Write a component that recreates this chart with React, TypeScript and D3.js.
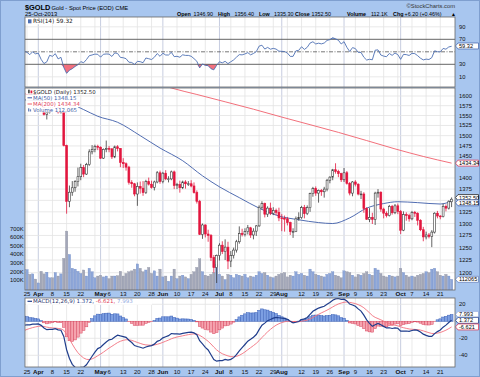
import React from "react";
import * as d3 from "d3";

const holidays = ["2013-03-29", "2013-05-27", "2013-07-04", "2013-09-02"];
const firstDay = "2013-03-25";
const lastDay = "2013-10-25";
const monthNames = ["Jan", "Feb", "Mar", "Apr", "May", "Jun", "Jul", "Aug", "Sep", "Oct", "Nov", "Dec"];

// closes before the visible window (Jan 2 - Mar 22, 2013), used for indicator warm-up
const priorCloses = [1687, 1668, 1649, 1646, 1657, 1655, 1678, 1662, 1667, 1683, 1680, 1687, 1687, 1692, 1685, 1669, 1658, 1655, 1661, 1678, 1663,
  1667, 1675, 1673, 1677, 1670, 1667, 1649, 1648, 1643, 1636, 1609, 1604, 1577, 1578, 1581, 1593, 1614, 1596, 1580,
  1577, 1573, 1575, 1583, 1578, 1577, 1576, 1591, 1588, 1588, 1592, 1603, 1613, 1606, 1614, 1607];

// [open, high, low, close] per trading day, Mar 25 - Oct 25 2013
const ohlc: number[][] = [
  [1607, 1615, 1597, 1604], [1604, 1606, 1592, 1596], [1596, 1609, 1593, 1605], [1605, 1607, 1590, 1598],
  [1598, 1605, 1592, 1600], [1600, 1603, 1573, 1576], [1576, 1579, 1550, 1553], [1553, 1566, 1540, 1558], [1558, 1587, 1555, 1580],
  [1580, 1582, 1566, 1575], [1575, 1590, 1571, 1585], [1585, 1588, 1555, 1558], [1558, 1572, 1555, 1564], [1564, 1566, 1474, 1476],
  [1476, 1478, 1321, 1348], [1348, 1383, 1335, 1368], [1368, 1393, 1360, 1378], [1378, 1395, 1369, 1392], [1392, 1424, 1381, 1403],
  [1403, 1433, 1395, 1424], [1424, 1430, 1402, 1409], [1409, 1435, 1407, 1431], [1431, 1467, 1428, 1461], [1461, 1477, 1455, 1467],
  [1467, 1478, 1460, 1474], [1474, 1478, 1465, 1472],
  [1472, 1474, 1444, 1446], [1446, 1469, 1444, 1467], [1467, 1488, 1460, 1469], [1469, 1475, 1460, 1468], [1468, 1470, 1444, 1449],
  [1449, 1476, 1446, 1473], [1473, 1477, 1462, 1469], [1469, 1470, 1425, 1436], [1436, 1446, 1423, 1433], [1433, 1436, 1417, 1425],
  [1425, 1428, 1385, 1390], [1390, 1395, 1378, 1387], [1387, 1389, 1359, 1364], [1364, 1390, 1338, 1381], [1381, 1392, 1365, 1377],
  [1377, 1393, 1360, 1367], [1367, 1396, 1364, 1392], [1392, 1401, 1383, 1386], [1386, 1394, 1376, 1379], [1379, 1394, 1372, 1391],
  [1391, 1416, 1388, 1412], [1412, 1417, 1387, 1392],
  [1392, 1414, 1388, 1411], [1411, 1418, 1395, 1398], [1398, 1404, 1390, 1398], [1398, 1417, 1395, 1414], [1414, 1417, 1375, 1383],
  [1383, 1389, 1375, 1385], [1385, 1394, 1367, 1378], [1378, 1394, 1375, 1391], [1391, 1395, 1376, 1387], [1387, 1393, 1382, 1387],
  [1387, 1395, 1379, 1382], [1382, 1390, 1365, 1367], [1367, 1372, 1343, 1348], [1348, 1351, 1276, 1277], [1277, 1300, 1268, 1297],
  [1297, 1298, 1271, 1278], [1278, 1287, 1262, 1275], [1275, 1278, 1223, 1230], [1230, 1235, 1200, 1210], [1210, 1236, 1180, 1234],
  [1234, 1259, 1224, 1255], [1255, 1263, 1237, 1242], [1242, 1267, 1225, 1251], [1251, 1262, 1207, 1223], [1223, 1243, 1211, 1234],
  [1234, 1250, 1228, 1245], [1245, 1266, 1240, 1262], [1262, 1294, 1258, 1279], [1279, 1289, 1273, 1277], [1277, 1290, 1273, 1283],
  [1283, 1297, 1277, 1291], [1291, 1293, 1270, 1276], [1276, 1290, 1267, 1284], [1284, 1297, 1274, 1295], [1295, 1339, 1293, 1335],
  [1335, 1348, 1330, 1343], [1343, 1345, 1313, 1320], [1320, 1337, 1314, 1333], [1333, 1345, 1318, 1322], [1322, 1335, 1318, 1328],
  [1328, 1332, 1318, 1324], [1324, 1334, 1305, 1312],
  [1312, 1320, 1284, 1311], [1311, 1317, 1283, 1310], [1310, 1314, 1296, 1302], [1302, 1304, 1276, 1283], [1283, 1290, 1270, 1283],
  [1283, 1315, 1282, 1310], [1310, 1324, 1306, 1313], [1313, 1338, 1310, 1334], [1334, 1340, 1311, 1321], [1321, 1339, 1318, 1334],
  [1334, 1367, 1325, 1365], [1365, 1380, 1358, 1376], [1376, 1381, 1360, 1366], [1366, 1374, 1345, 1372], [1372, 1375, 1360, 1369],
  [1369, 1380, 1356, 1375], [1375, 1398, 1370, 1395], [1395, 1404, 1388, 1402], [1402, 1421, 1395, 1419], [1419, 1434, 1410, 1415],
  [1415, 1419, 1402, 1410], [1410, 1412, 1391, 1396],
  [1396, 1423, 1391, 1412], [1412, 1416, 1385, 1388], [1388, 1391, 1361, 1366], [1366, 1393, 1359, 1391], [1391, 1395, 1381, 1386],
  [1386, 1388, 1361, 1364], [1364, 1371, 1353, 1364], [1364, 1368, 1323, 1332], [1332, 1335, 1308, 1309], [1309, 1333, 1303, 1313],
  [1313, 1323, 1299, 1309], [1309, 1369, 1297, 1366], [1366, 1375, 1356, 1368], [1368, 1370, 1325, 1331], [1331, 1334, 1311, 1322],
  [1322, 1326, 1313, 1317], [1317, 1340, 1315, 1337], [1337, 1340, 1319, 1323], [1323, 1342, 1320, 1338], [1338, 1343, 1320, 1326],
  [1326, 1329, 1278, 1286], [1286, 1326, 1284, 1319], [1319, 1324, 1306, 1317], [1317, 1321, 1304, 1310], [1310, 1327, 1307, 1324],
  [1324, 1327, 1314, 1322], [1322, 1324, 1296, 1307], [1307, 1309, 1284, 1287], [1287, 1293, 1263, 1272], [1272, 1283, 1267, 1276],
  [1276, 1280, 1269, 1273], [1273, 1286, 1251, 1282], [1282, 1324, 1279, 1322], [1322, 1327, 1311, 1316], [1316, 1318, 1309, 1315],
  [1315, 1343, 1313, 1337], [1337, 1341, 1326, 1333], [1333, 1350, 1330, 1348], [1346.9, 1356.4, 1335.3, 1352.5],
];

// volume in thousands
const volumeK = [
  225, 170, 175, 115, 70, 205, 175, 195, 130, 130, 190, 150, 175, 355,
  670, 400, 240, 230, 205, 180, 220, 150, 240, 200, 130, 150,
  160, 140, 150, 120, 150, 150, 155, 205, 150, 180, 200, 210, 230, 290, 240, 200, 220, 250, 180, 210, 150, 230,
  140, 150, 90, 150, 230, 120, 150, 160, 140, 120, 170, 200, 250, 350, 200, 160, 150, 170, 190, 280,
  170, 150, 110, 170, 160, 130, 170, 160, 150, 170, 130, 150, 140, 160, 200, 180, 190, 160, 140, 130, 150, 170,
  180, 190, 140, 160, 150, 200, 170, 180, 160, 150, 230, 200, 170, 160, 150, 140, 170, 180, 200, 160, 150, 130,
  210, 200, 190, 160, 140, 170, 160, 180, 200, 170, 160, 240, 220, 180, 150, 140, 160, 150, 140, 150,
  240, 190, 160, 140, 150, 140, 160, 170, 180, 200, 190, 230, 240, 200, 160, 150, 170, 150, 112.065,
];

// moving averages: [day index, value]
const ma50Pts = [[-1, 1590], [16, 1577], [20, 1565], [25, 1548], [32, 1533], [40, 1500], [47, 1470], [55, 1440], [62, 1405], [68, 1380],
  [75, 1356], [82, 1333], [89, 1316], [96, 1308], [103, 1302], [108, 1300], [114, 1312], [120, 1333], [126, 1343], [131, 1347],
  [138, 1345], [146, 1342], [150, 1348.15]];
const ma200Pts = [[40, 1650], [51, 1621], [60, 1604], [70, 1585], [80, 1566], [90, 1546], [100, 1527], [110, 1508], [120, 1488],
  [130, 1468], [140, 1450], [150, 1434.34]];

const priceTicks = [1600, 1575, 1550, 1525, 1500, 1475, 1450, 1425, 1400, 1375, 1350, 1325, 1300, 1275, 1250, 1225, 1200];
const volTicks = [100, 200, 300, 400, 500, 600, 700];
const rsiTicks = [90, 70, 50, 30, 10];
const macdTicks = [20, 0, -20, -40];

const BG = "#a8c6ef";
const GRID = "#e3e3e3";
const MGRID = "#b9c0d8";
const RED = "#e2163e";
const UP = "#3a3a3a";
const SANS = "Liberation Sans, Arial, sans-serif";
const LEG = "DejaVu Sans, Verdana, sans-serif";

function tradingDays(): Date[] {
  const out: Date[] = [];
  const hol = new Set(holidays);
  const d = new Date(firstDay + "T00:00:00Z");
  const end = new Date(lastDay + "T00:00:00Z");
  while (d <= end) {
    const dow = d.getUTCDay();
    const iso = d.toISOString().slice(0, 10);
    if (dow !== 0 && dow !== 6 && !hol.has(iso)) out.push(new Date(d));
    d.setUTCDate(d.getUTCDate() + 1);
  }
  return out;
}

function ema(v: number[], n: number) {
  const k = 2 / (n + 1);
  const out: number[] = [];
  let e = v[0];
  v.forEach((x, i) => {
    e = i === 0 ? x : x * k + e * (1 - k);
    out.push(e);
  });
  return out;
}

function rsiCalc(c: number[], n: number) {
  const out = c.map(() => NaN);
  let g = 0, l = 0;
  for (let i = 1; i <= n; i++) {
    const d = c[i] - c[i - 1];
    if (d > 0) g += d; else l -= d;
  }
  g /= n; l /= n;
  out[n] = 100 - 100 / (1 + g / l);
  for (let i = n + 1; i < c.length; i++) {
    const d = c[i] - c[i - 1];
    g = (g * (n - 1) + Math.max(d, 0)) / n;
    l = (l * (n - 1) + Math.max(-d, 0)) / n;
    out[i] = 100 - 100 / (1 + g / l);
  }
  return out;
}

function resolve(items: { y: number }[], gap: number) {
  const s = [...items].sort((a, b) => a.y - b.y);
  for (let it = 0; it < 20; it++) {
    for (let i = 1; i < s.length; i++) {
      const d = s[i].y - s[i - 1].y;
      if (d < gap) {
        const m = (gap - d) / 2;
        s[i].y += m;
        s[i - 1].y -= m;
      }
    }
  }
}

function ValueBox({ y, text, stroke, color = "#000" }: { y: number; text: string; stroke: string; color?: string }) {
  return (
    <g>
      <path d={`M455.5,${y} L458,${y - 3} L478.5,${y - 3} L478.5,${y + 3} L458,${y + 3} Z`} fill="#fff" stroke={stroke} strokeWidth={0.8} />
      <text x={459} y={y + 2} fontSize={5.6} fontFamily={SANS} fill={color}>{text}</text>
    </g>
  );
}

export default function App() {
  const days = tradingDays();
  const n = ohlc.length;
  const P = priorCloses.length;
  const x = d3.scaleLinear().domain([-0.7, 151.2]).range([25, 455]);
  const yP = d3.scaleLog().domain([1600, 1200]).range([96, 272.7]);
  const yV = d3.scaleLinear().domain([0, 700]).range([289, 228.5]);
  const yR = d3.scaleLinear().domain([10, 90]).range([76.8, 26.8]);
  const yM = d3.scaleLinear().domain([-40, 20]).range([355.3, 304.3]);

  const closes = ohlc.map((d) => d[3]);
  const all = priorCloses.concat(closes);
  const rsiAll = rsiCalc(all, 14);
  const e12 = ema(all, 12);
  const e26 = ema(all, 26);
  const macdAll = all.map((_, i) => e12[i] - e26[i]);
  const sigAll = ema(macdAll, 9);
  const idxs = d3.range(-1, n);
  const rsiPts = idxs.map((i) => [i, rsiAll[P + i]] as [number, number]);
  const macdPts = idxs.map((i) => [i, macdAll[P + i]] as [number, number]);
  const sigPts = idxs.map((i) => [i, sigAll[P + i]] as [number, number]);
  const hist = idxs.map((i) => [i, macdAll[P + i] - sigAll[P + i]] as [number, number]);

  const ticks: { i: number; label: string; month: boolean }[] = [];
  days.forEach((d, i) => {
    const p = days[i - 1];
    const month = p ? p.getUTCMonth() !== d.getUTCMonth() : false;
    const week = p ? d.getUTCDay() <= p.getUTCDay() : true;
    if (month) ticks.push({ i, label: monthNames[d.getUTCMonth()], month: true });
    else if (week) ticks.push({ i, label: String(d.getUTCDate()), month: false });
  });
  const labels = ticks.filter((t) => t.month || !ticks.some((m) => m.month && Math.abs(x(m.i) - x(t.i)) < 7));

  const curve = d3.line<number[]>().x((d) => x(d[0])).y((d) => yP(d[1])).curve(d3.curveMonotoneX);

  const rsiPath = d3.line<[number, number]>().x((d) => x(d[0])).y((d) => yR(d[1]))(rsiPts) || "";
  const rsiLow = d3.area<[number, number]>().x((d) => x(d[0])).y0(yR(30)).y1((d) => yR(Math.min(30, d[1])))(rsiPts) || "";
  const rsiHigh = d3.area<[number, number]>().x((d) => x(d[0])).y0(yR(70)).y1((d) => yR(Math.max(70, d[1])))(rsiPts) || "";
  const macdPath = d3.line<[number, number]>().x((d) => x(d[0])).y((d) => yM(d[1]))(macdPts) || "";
  const sigPath = d3.line<[number, number]>().x((d) => x(d[0])).y((d) => yM(d[1]))(sigPts) || "";

  const L = 25, R = 455;
  const panels = [
    { id: "rsi", t: 17, b: 87 },
    { id: "price", t: 88, b: 290 },
    { id: "macd", t: 298, b: 367 },
  ];

  const vgrid = (t: number, b: number) =>
    ticks.map((tk) => (
      <line key={"g" + tk.i} x1={x(tk.i)} x2={x(tk.i)} y1={t} y2={b} stroke={tk.month ? MGRID : GRID} strokeWidth={0.8} />
    ));

  const dateAxis = (y: number) =>
    labels.map((t) => (
      <text key={"l" + t.i} x={x(t.i)} y={y} textAnchor="middle" fontSize={t.month ? 6.2 : 6} fontWeight={t.month ? "bold" : "normal"} fontFamily={SANS} fill="#111">
        {t.label}
      </text>
    ));

  const priceBoxes = [
    { y: yP(1352.5), text: "1352.50", stroke: "#222" },
    { y: yP(1348.15), text: "1348.15", stroke: "#3d5ca8" },
  ];
  resolve(priceBoxes, 5.2);
  const macdBoxes = [
    { y: yM(7.993), text: "7.993", stroke: "#8fa8e0" },
    { y: yM(1.372), text: "1.372", stroke: "#1f3d8c" },
    { y: yM(-6.621), text: "-6.621", stroke: "#e0405a" },
  ];
  resolve(macdBoxes, 6);

  const bw = 1.9;
  const SY = 15.8;

  return (
    <svg width={480} height={377} style={{ position: "absolute", left: 0, top: 0, display: "block" }}>
      <defs>
        {panels.map((p) => (
          <clipPath id={"clip-" + p.id} key={p.id}>
            <rect x={L} y={p.t} width={R - L} height={p.b - p.t} />
          </clipPath>
        ))}
      </defs>
      <rect x={0} y={0} width={480} height={377} fill={BG} />
      <rect x={0.5} y={0.5} width={479} height={376} fill="none" stroke="#7f9fcf" />

      {/* header */}
      <text x={25} y={10} fontSize={7.4} fontWeight="bold" fontFamily={SANS} fill="#000">$GOLD</text>
      <text x={51.5} y={9.5} fontSize={5.8} fontFamily={SANS} fill="#000">Gold - Spot Price (EOD) CME</text>
      <text x={25} y={16} fontSize={5.8} fontFamily={SANS} fill="#000">25-Oct-2013</text>
      <text x={455} y={8} fontSize={5.8} textAnchor="end" fontFamily={SANS} fill="#333">©StockCharts.com</text>
      <g fontFamily={SANS} fontSize={5.4} fill="#000">
        <text x={177} y={SY} fontWeight="bold">Open</text>
        <text x={193.5} y={SY}>1346.90</text>
        <text x={218} y={SY} fontWeight="bold">High</text>
        <text x={234.5} y={SY}>1356.40</text>
        <text x={259} y={SY} fontWeight="bold">Low</text>
        <text x={274} y={SY}>1335.30</text>
        <text x={295} y={SY} fontWeight="bold">Close</text>
        <text x={311.5} y={SY}>1352.50</text>
        <text x={347} y={SY} fontWeight="bold">Volume</text>
        <text x={371} y={SY}>112.1K</text>
        <text x={393} y={SY} fontWeight="bold">Chg</text>
        <text x={404.5} y={SY}>+6.20 (+0.46%)</text>
        <text x={451} y={SY} fontSize={5}>▲</text>
      </g>

      {panels.map((p) => (
        <rect key={"bg" + p.id} x={L} y={p.t} width={R - L} height={p.b - p.t} fill="#fff" />
      ))}

      {/* RSI panel */}
      <g clipPath="url(#clip-rsi)">
        {vgrid(17, 87)}
        {[90, 10].map((v) => (
          <line key={v} x1={L} x2={R} y1={yR(v)} y2={yR(v)} stroke={GRID} strokeWidth={0.8} />
        ))}
        <path d={rsiLow} fill="#f2707e" />
        <path d={rsiHigh} fill="#8fa8e0" />
        <line x1={L} x2={R} y1={yR(70)} y2={yR(70)} stroke="#555" strokeWidth={0.9} />
        <line x1={L} x2={R} y1={yR(30)} y2={yR(30)} stroke="#555" strokeWidth={0.9} />
        <line x1={L} x2={R} y1={yR(50)} y2={yR(50)} stroke="#555" strokeWidth={0.8} strokeDasharray="4 1.5 1 1.5" />
        <path d={rsiPath} fill="none" stroke="#4d6fb3" strokeWidth={0.9} />
      </g>
      <rect x={26} y={18} width={54} height={6.3} fill="#fff" />
      <rect x={28} y={19.3} width={3.5} height={4} fill="#4d6fb3" />
      <text x={33} y={23.2} fontSize={5.8} fontFamily={LEG} fill="#222">RSI(14) 59.32</text>
      {rsiTicks.filter((v) => v !== 50).map((v) => (
        <text key={v} x={459} y={yR(v) + 2} fontSize={5.8} fontFamily={SANS} fill="#111">{v}</text>
      ))}
      <ValueBox y={yR(59.32)} text="59.32" stroke="#4d6fb3" />

      {/* Price panel */}
      <g clipPath="url(#clip-price)">
        {vgrid(88, 290)}
        {priceTicks.map((v) => (
          <line key={v} x1={L} x2={R} y1={yP(v)} y2={yP(v)} stroke={GRID} strokeWidth={0.8} />
        ))}
        {volumeK.map((v, i) => {
          const up = i === 0 ? true : closes[i] >= closes[i - 1];
          return (
            <rect key={"v" + i} x={x(i) - 1.2} y={yV(v)} width={2.4} height={289 - yV(v) + 1}
              fill={up ? "#8da6d8" : "#a3a7b8"} stroke={up ? "#6f88c0" : "#8a8e9e"} strokeWidth={0.3} />
          );
        })}
        <path d={curve(ma200Pts) || ""} fill="none" stroke="#f0606c" strokeWidth={0.9} />
        <path d={curve(ma50Pts) || ""} fill="none" stroke="#3d5ca8" strokeWidth={0.9} />
        {ohlc.map(([o, h, l, c], i) => {
          const prev = i === 0 ? priorCloses[P - 1] : closes[i - 1];
          const col = c < prev ? RED : UP;
          const filled = c < o;
          const top = yP(Math.max(o, c));
          const bot = yP(Math.min(o, c));
          const cx = x(i);
          return (
            <g key={"c" + i}>
              <line x1={cx} x2={cx} y1={yP(h)} y2={yP(l)} stroke={col} strokeWidth={0.8} />
              <rect x={cx - bw / 2} y={top} width={bw} height={Math.max(0.8, bot - top)} fill={filled ? col : "#fff"} stroke={col} strokeWidth={0.6} />
            </g>
          );
        })}
      </g>
      {/* price legend */}
      <g fontFamily={LEG} fontSize={5.4}>
        <rect x={26} y={88.5} width={72} height={6.2} fill="#fff" />
        <rect x={26} y={94.7} width={49} height={6.2} fill="#fff" />
        <rect x={26} y={100.9} width={54} height={6.2} fill="#fff" />
        <rect x={26} y={107.1} width={52} height={5.4} fill="#fff" />
        <rect x={28} y={89.7} width={1.8} height={3.6} fill="#555" />
        <rect x={30.5} y={90.5} width={1.8} height={2.8} fill={RED} />
        <text x={33} y={93.6} fill="#222">$GOLD (Daily) 1352.50</text>
        <line x1={27.5} x2={32} y1={97.8} y2={97.8} stroke="#3d5ca8" strokeWidth={1} />
        <text x={33} y={99.8} fill="#3d5ca8">MA(50) 1348.15</text>
        <line x1={27.5} x2={32} y1={104} y2={104} stroke="#f0606c" strokeWidth={1} />
        <text x={33} y={106} fill="#e0405a">MA(200) 1434.34</text>
        <rect x={28} y={108.3} width={1.3} height={3.2} fill="#6f88c0" />
        <rect x={29.8} y={109.3} width={1.3} height={2.2} fill="#6f88c0" />
        <text x={33} y={112} fill="#3d5ca8">Volume 112,065</text>
      </g>
      {priceTicks.filter((v) => v !== 1350 && v !== 1425).map((v) => (
        <text key={v} x={459} y={yP(v) + 2} fontSize={5.8} fontFamily={SANS} fill="#111">{v}</text>
      ))}
      {volTicks.map((v) => (
        <text key={v} x={23.5} y={yV(v) + 2} fontSize={5.8} textAnchor="end" fontFamily={SANS} fill="#111">{v}K</text>
      ))}
      <ValueBox y={yP(1434.34)} text="1434.34" stroke="#e0405a" />
      {priceBoxes.map((b) => (
        <ValueBox key={b.text} y={b.y} text={b.text} stroke={b.stroke} />
      ))}
      <ValueBox y={yV(112.065)} text="112065" stroke="#6f88c0" />

      {/* date axes */}
      {dateAxis(296.2)}
      {dateAxis(373.6)}

      {/* MACD panel */}
      <g clipPath="url(#clip-macd)">
        {vgrid(298, 367)}
        {macdTicks.map((v) => (
          <line key={v} x1={L} x2={R} y1={yM(v)} y2={yM(v)} stroke={GRID} strokeWidth={0.8} />
        ))}
        {hist.map(([i, h]) => {
          const pos = h >= 0;
          const y0 = yM(0), y1 = yM(h);
          return (
            <rect key={"h" + i} x={x(i) - 1.4} y={Math.min(y0, y1)} width={2.8} height={Math.abs(y1 - y0)}
              fill={pos ? "#7d9fe2" : "#f5a3ae"} stroke={pos ? "#3d62b8" : "#d84a62"} strokeWidth={0.5} />
          );
        })}
        <path d={sigPath} fill="none" stroke="#f2707e" strokeWidth={0.9} />
        <path d={macdPath} fill="none" stroke="#1f3d8c" strokeWidth={1.2} />
      </g>
      <rect x={26} y={298.5} width={126} height={6.2} fill="#fff" />
      <line x1={27.5} x2={32} y1={301.3} y2={301.3} stroke="#1f3d8c" strokeWidth={1.2} />
      <text x={33} y={303.4} fontSize={5.5} fontFamily={LEG}>
        <tspan fill="#1f2f6a">MACD(12,26,9) </tspan>
        <tspan fill="#1f3d8c">1.372, </tspan>
        <tspan fill="#e0405a">-6.621, </tspan>
        <tspan fill="#8fa8e0">7.993</tspan>
      </text>
      {macdTicks.filter((v) => v !== 0).map((v) => (
        <text key={v} x={459} y={yM(v) + 2} fontSize={5.8} fontFamily={SANS} fill="#111">{v}</text>
      ))}
      {macdBoxes.map((b) => (
        <ValueBox key={b.text} y={b.y} text={b.text} stroke={b.stroke} />
      ))}

      {panels.map((p) => (
        <rect key={"br" + p.id} x={L} y={p.t} width={R - L} height={p.b - p.t} fill="none" stroke="#666" strokeWidth={0.8} />
      ))}
    </svg>
  );
}
